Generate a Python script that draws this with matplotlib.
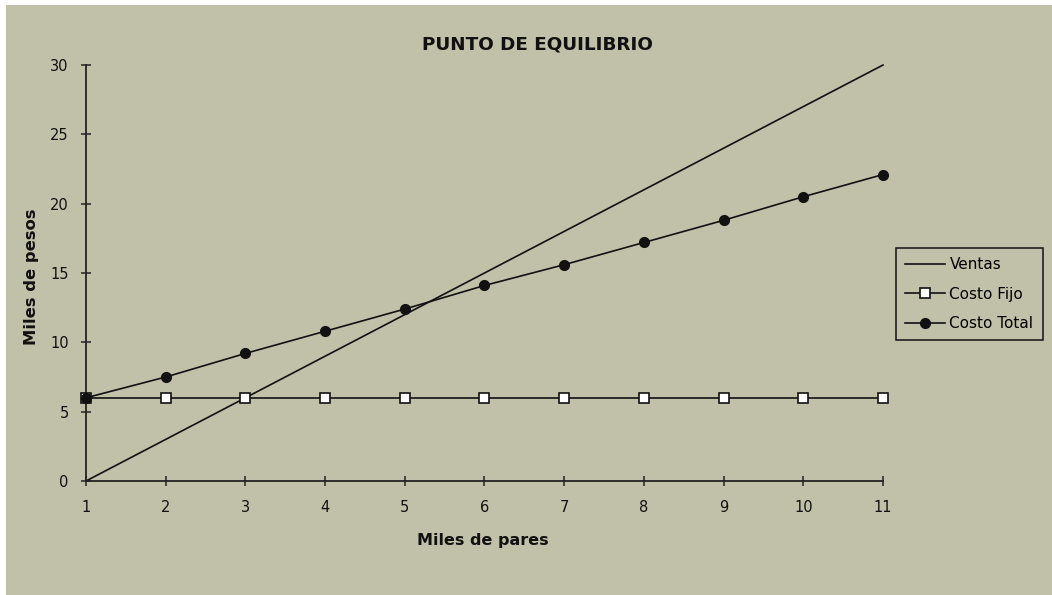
import matplotlib
matplotlib.use("Agg")
import matplotlib.pyplot as plt
from matplotlib.patches import Rectangle

# Break-even data (thousands of pairs vs thousands of pesos)
pares = [1, 2, 3, 4, 5, 6, 7, 8, 9, 10, 11]
ventas = [0, 3, 6, 9, 12, 15, 18, 21, 24, 27, 30]
costo_fijo = [6, 6, 6, 6, 6, 6, 6, 6, 6, 6, 6]
costo_total = [6.0, 7.5, 9.2, 10.8, 12.4, 14.1, 15.6, 17.2, 18.8, 20.5, 22.1]
y_ticks = [0, 5, 10, 15, 20, 25, 30]

bg = "#c1c0a9"
ink = "#111111"
plt.rcParams["font.family"] = ["DejaVu Sans"]

fig = plt.figure(figsize=(10.52, 5.95), dpi=100, facecolor="white")
fig.patches.append(Rectangle((6 / 1052, 0), 1 - 6 / 1052, 1 - 5 / 595,
                             transform=fig.transFigure, facecolor=bg,
                             edgecolor="none", zorder=-10))

ax = fig.add_axes([86 / 1052, 114 / 595, (883 - 86) / 1052, (481 - 65) / 595])
ax.set_facecolor("none")

ax.plot(pares, ventas, color=ink, lw=1.2, label="Ventas", clip_on=False)
ax.plot(pares, costo_fijo, color=ink, lw=1.2, marker="s", markersize=6.5,
        markerfacecolor="white", markeredgecolor=ink, markeredgewidth=1.2,
        label="Costo Fijo", clip_on=False, zorder=3)
ax.plot(pares, costo_total, color=ink, lw=1.2, marker="o", markersize=7,
        markerfacecolor=ink, markeredgecolor=ink,
        label="Costo Total", clip_on=False, zorder=4)

ax.set_xlim(1, 11)
ax.set_ylim(0, 30)
ax.set_xticks(pares)
ax.set_yticks(y_ticks)

for side in ("top", "right"):
    ax.spines[side].set_visible(False)
for side in ("left", "bottom"):
    ax.spines[side].set_color("#222222")
    ax.spines[side].set_linewidth(1.3)

ax.tick_params(direction="inout", length=7, width=1.1, colors="#222222",
               labelsize=10.5, labelcolor=ink)
ax.tick_params(axis="x", pad=10)
ax.tick_params(axis="y", pad=9)

fig.text(537 / 1052, 1 - 44 / 595, "PUNTO DE EQUILIBRIO", ha="center",
         va="center", fontsize=13.2, fontweight="bold", color=ink)
fig.text(483 / 1052, 1 - 541 / 595, "Miles de pares", ha="center",
         va="center", fontsize=11.5, fontweight="bold", color=ink)
fig.text(32 / 1052, 1 - 277 / 595, "Miles de pesos", ha="center",
         va="center", rotation=90, fontsize=11.8, fontweight="bold", color=ink)

leg = ax.legend(loc="upper left", bbox_to_anchor=(896 / 1052, 1 - 248 / 595),
                bbox_transform=fig.transFigure, borderaxespad=0,
                frameon=True, fancybox=False, facecolor=bg, edgecolor=ink,
                fontsize=11, handlelength=2.6, handletextpad=0.3,
                labelspacing=0.95, borderpad=0.6)
leg.get_frame().set_linewidth(1.1)
leg.get_frame().set_alpha(1)

fig.savefig("out.png", dpi=100, facecolor=fig.get_facecolor())
